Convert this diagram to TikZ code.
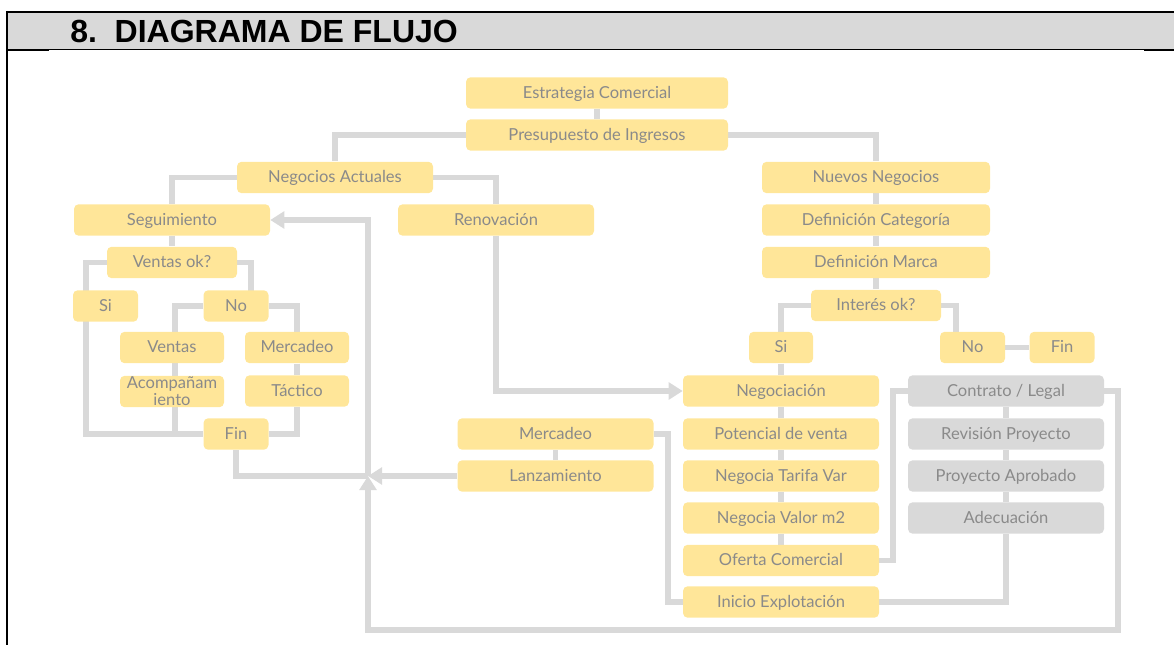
\documentclass[tikz,border=0pt]{standalone}
\usepackage{fontspec}
\setmainfont{Lato}
\newfontfamily\titlefont{Liberation Sans}
\usetikzlibrary{arrows.meta,backgrounds}

\definecolor{boxfill}{HTML}{FFE699}
\definecolor{boxgrey}{HTML}{D9D9D9}
\definecolor{boxtext}{HTML}{8A8A8A}
\definecolor{linegrey}{HTML}{D9D9D9}
\definecolor{headgrey}{HTML}{D9D9D9}

\tikzset{
	box/.style={rectangle, rounded corners=3.5pt, fill=boxfill, text=boxtext, inner sep=0pt,
		minimum height=23.6pt, minimum width=147pt, align=center,
		text height=9.4pt, text depth=1.4pt,
		font=\fontsize{12.4}{12.75}\selectfont},
	greybox/.style={box, fill=boxgrey},
	conn/.style={draw=linegrey, line width=3.8pt},
	arr/.style={-{Triangle[length=10.5pt,width=12.5pt]}}
}

\begin{document}
\begin{tikzpicture}[x=0.75pt,y=-0.75pt]
	\useasboundingbox (0,0) rectangle (1174,645);

	%frame
	\fill [headgrey] (7,13) rectangle (1174,49);
	\draw [line width=1.5pt] (7,12) -- (1174,12);
	\draw [line width=1.9pt] (7,11) -- (7,645);
	\draw [line width=0.75pt] (7,49.5) -- (1174,49.5);
	\draw [line width=1.5pt] (7,50.5) -- (49,50.5);
	\draw [line width=1.5pt] (1144,50.5) -- (1174,50.5);
	\node [anchor=base west, inner sep=0pt, font=\titlefont\bfseries\fontsize{24}{28}\selectfont] (title) at (70,43) {8.\ \ DIAGRAMA DE FLUJO};

	%nodes
	\node [box, minimum width=196.5pt] (estr) at (597,93) {Estrategia Comercial};
	\node [box, minimum width=196.5pt] (pres) at (597,135) {Presupuesto de Ingresos};
	\node [box] (negact) at (335,177.5) {Negocios Actuales};
	\node [box] (segui) at (172,220) {Seguimiento};
	\node [box] (renov) at (496,220) {Renovación};
	\node [box, minimum width=97.5pt] (ventok) at (172,262.5) {Ventas ok?};
	\node [box, minimum width=48.75pt] (siA) at (105.5,306) {Si};
	\node [box, minimum width=48.75pt] (noA) at (236,306) {No};
	\node [box, minimum width=78pt] (ventas) at (172,347.5) {Ventas};
	\node [box, minimum width=78pt] (mercA) at (297,347.5) {Mercadeo};
	\node [box, minimum width=78pt, text height=, text depth=] (acomp) at (172,391.5) {Acompañam\\iento};
	\node [box, minimum width=78pt] (tactico) at (297,391) {Táctico};
	\node [box, minimum width=48.75pt] (finA) at (236,434) {Fin};

	\node [box, minimum width=171pt] (nuevos) at (876,177.5) {Nuevos Negocios};
	\node [box, minimum width=171pt] (defcat) at (876,220) {Definición Categoría};
	\node [box, minimum width=171pt] (defmar) at (876,262.5) {Definición Marca};
	\node [box, minimum width=97.5pt] (interes) at (876,305.5) {Interés ok?};
	\node [box, minimum width=48pt] (siB) at (781,347.5) {Si};
	\node [box, minimum width=48.75pt] (noB) at (972.5,347.5) {No};
	\node [box, minimum width=48.75pt] (finB) at (1062,347.5) {Fin};

	\node [box] (negoc) at (781,391) {Negociación};
	\node [box] (potenc) at (781,434) {Potencial de venta};
	\node [box] (tarifa) at (781,476) {Negocia Tarifa Var};
	\node [box] (valor) at (781,518) {Negocia Valor m2};
	\node [box] (oferta) at (781,560.5) {Oferta Comercial};
	\node [box] (inicio) at (781,602) {Inicio Explotación};

	\node [greybox] (contrato) at (1006,391) {Contrato / Legal};
	\node [greybox] (revision) at (1006,434) {Revisión Proyecto};
	\node [greybox] (aprobado) at (1006,476) {Proyecto Aprobado};
	\node [greybox] (adecua) at (1006,518) {Adecuación};

	\node [box] (mercB) at (555.5,434) {Mercadeo};
	\node [box] (lanza) at (555.5,476) {Lanzamiento};

	%rails
	\coordinate (railSi) at (86,306);
	\coordinate (railV) at (251,306);
	\coordinate (railNo) at (175,306);
	\coordinate (railNoB) at (956,347.5);
	\coordinate (railMerc) at (668,434);
	\coordinate (railOf) at (893,560.5);
	\coordinate (junc) at (368,476);
	\coordinate (loopR) at (1118,630);
	\coordinate (loopL) at (368,630);

	%paths
	\begin{pgfonlayer}{background}
		\foreach \a/\b in {estr/pres, segui/ventok, mercA/tactico, nuevos/defcat, defcat/defmar,
			defmar/interes, siB/negoc, negoc/potenc, potenc/tarifa, tarifa/valor, valor/oferta,
			contrato/revision, revision/aprobado, aprobado/adecua, mercB/lanza, noB/finB}
			\draw [conn] (\a) -- (\b);

		\draw [conn] (pres.west) -| (negact.north);
		\draw [conn] (pres.east) -| (nuevos.north);
		\draw [conn] (negact.west) -| (segui.north);
		\draw [conn] (negact.east) -| (renov.north);
		\draw [conn, arr] (renov.south) |- (negoc.west);

		\draw [conn] (ventok.west) -| (railSi) |- (finA.west);
		\draw [conn] (ventok.east) -| (railV);
		\draw [conn] (noA.west) -| (railNo) |- (finA.west);
		\draw [conn] (noA.east) -| (mercA.north);
		\draw [conn] (tactico.south) |- (finA.east);
		\draw [conn] (finA.south) |- (junc);

		\draw [conn, arr] (lanza.west) -- (junc);
		\draw [conn, arr] (contrato.east) -| (loopR) -- (loopL) -- (junc);
		\draw [conn, arr] (junc) |- (segui.east);

		\draw [conn] (interes.west) -| (siB.north);
		\draw [conn] (interes.east) -| (railNoB);
		\draw [conn] (mercB.east) -| (railMerc) |- (inicio.west);
		\draw [conn] (oferta.east) -| (railOf) |- (contrato.west);
		\draw [conn] (adecua.south) |- (inicio.east);
	\end{pgfonlayer}

\end{tikzpicture}
\end{document}
